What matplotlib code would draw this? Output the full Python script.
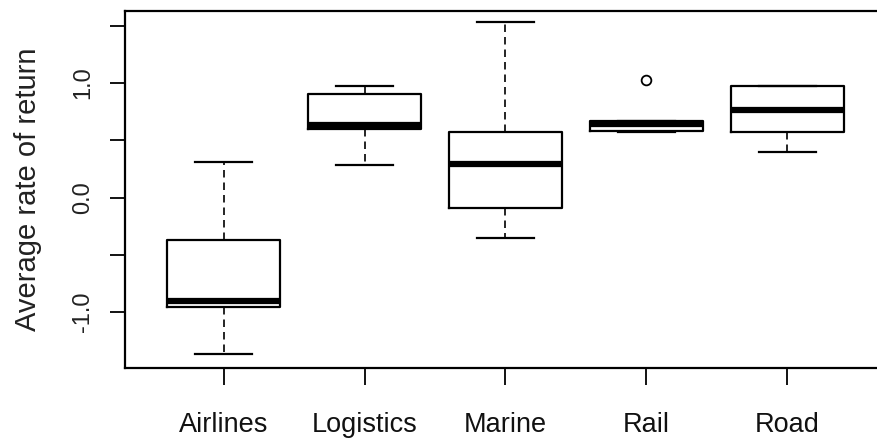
import matplotlib
matplotlib.use("Agg")
import matplotlib.pyplot as plt

plt.rcParams['font.family'] = ['Liberation Sans', 'DejaVu Sans']

# summary values
sectors = ["Airlines", "Logistics", "Marine", "Rail", "Road"]
whis_lo = [-1.37, 0.28, -0.35, 0.57, 0.40]
q1 = [-0.96, 0.60, -0.09, 0.58, 0.57]
med = [-0.90, 0.63, 0.29, 0.64, 0.76]
q3 = [-0.37, 0.90, 0.57, 0.67, 0.97]
whis_hi = [0.31, 0.97, 1.53, 0.67, 0.97]
outliers = [[], [], [], [1.03], []]

ytick_vals = [-1.0, -0.5, 0.0, 0.5, 1.0, 1.5]
ytick_labels = ["-1.0", "", "0.0", "", "1.0", ""]

stats = []
for i in range(len(sectors)):
    stats.append({"label": sectors[i], "whislo": whis_lo[i], "q1": q1[i],
                  "med": med[i], "q3": q3[i], "whishi": whis_hi[i],
                  "fliers": outliers[i]})

fig = plt.figure(figsize=(8.78, 4.43), dpi=100)
ax = fig.add_axes([125 / 878, 1 - 368 / 443, (886 - 125) / 878, (368 - 11) / 443])

ax.bxp(stats, widths=0.8, showfliers=True,
       boxprops=dict(color="black", linewidth=1.6),
       medianprops=dict(color="black", linewidth=4.5, solid_capstyle="butt"),
       whiskerprops=dict(color="black", linewidth=1.2, linestyle=(0, (4.5, 3))),
       capprops=dict(color="black", linewidth=1.6),
       flierprops=dict(marker="o", markersize=7, markerfacecolor="none",
                       markeredgecolor="black", markeredgewidth=1.3))

ax.set_xlim(0.3, 5.7)
ax.set_ylim(-1.489, 1.629)

ax.set_yticks(ytick_vals)
ax.set_yticklabels(ytick_labels, rotation=90, va="center", fontsize=17, color="#222222")
ax.set_xticks(range(1, 6))
ax.set_xticklabels(sectors, fontsize=19.5, color="#111111")
ax.tick_params(axis="y", length=11, width=1.3, pad=11)
ax.tick_params(axis="x", length=12, width=1.3, pad=20)

for s in ax.spines.values():
    s.set_linewidth(1.6)

ax.set_ylabel("Average rate of return", fontsize=21, color="#222222", labelpad=22)

fig.savefig("out.png", dpi=100)
